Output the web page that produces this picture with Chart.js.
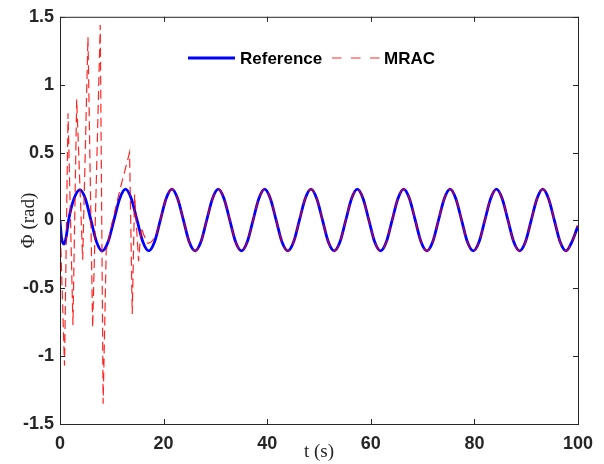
<!DOCTYPE html>
<html>
<head>
<meta charset="utf-8">
<script src="https://cdn.jsdelivr.net/npm/chart.js@4.4.0/dist/chart.umd.min.js"></script>
<style>
  html, body { margin: 0; padding: 0; background: #fff; }
  #wrap { width: 604px; height: 464px; }
</style>
</head>
<body>
<div id="wrap"><canvas id="chart" width="604" height="464"></canvas></div>
<script>
// Reference trajectory (rad)
const refT = [0, 0.3, 0.8, 1.2, 1.65, 2.7, 3.85, 4.9, 5.98, 7.07, 8.15, 9.27, 10.4, 11.52,
  12.65, 13.77, 14.89, 16.01, 17.13, 18.24, 19.36, 20.48,
  21.60, 22.72, 23.84, 24.96, 26.08, 27.19, 28.31, 29.43,
  30.55, 31.67, 32.79, 33.91, 35.03, 36.14, 37.26, 38.38,
  39.50, 40.62, 41.74, 42.86, 43.98, 45.09, 46.21, 47.33,
  48.45, 49.57, 50.69, 51.81, 52.93, 54.04, 55.16, 56.28,
  57.40, 58.52, 59.64, 60.76, 61.88, 62.99, 64.11, 65.23,
  66.35, 67.47, 68.59, 69.71, 70.83, 71.94, 73.06, 74.18,
  75.30, 76.42, 77.54, 78.66, 79.78, 80.89, 82.01, 83.13,
  84.25, 85.37, 86.49, 87.61, 88.73, 89.84, 90.96, 92.08,
  93.20, 94.32, 95.44, 96.56, 97.68, 98.80, 100];
const refY = [0, -0.13, -0.175, -0.12, 0, 0.16, 0.225, 0.16, 0, -0.16, -0.225, -0.16, 0, 0.16,
  0.23, 0.16, 0, -0.16, -0.225, -0.16, 0, 0.16,
  0.23, 0.16, 0, -0.16, -0.225, -0.16, 0, 0.16,
  0.23, 0.16, 0, -0.16, -0.225, -0.16, 0, 0.16,
  0.23, 0.16, 0, -0.16, -0.225, -0.16, 0, 0.16,
  0.23, 0.16, 0, -0.16, -0.225, -0.16, 0, 0.16,
  0.23, 0.16, 0, -0.16, -0.225, -0.16, 0, 0.16,
  0.23, 0.16, 0, -0.16, -0.225, -0.16, 0, 0.16,
  0.23, 0.16, 0, -0.16, -0.225, -0.16, 0, 0.16,
  0.23, 0.16, 0, -0.16, -0.225, -0.16, 0, 0.16,
  0.23, 0.16, 0, -0.16, -0.225, -0.16, -0.04];

// MRAC transient (first ~19 s), straight segments
const mracT1 = [0, 0.87, 1.55, 2.5, 3.22, 4.38, 5.4, 6.3, 7.77, 8.33, 8.92, 9.4, 10.0, 10.5,
  11.1, 11.8, 13.43, 13.95, 14.4, 15.17, 15.69, 16.2, 16.97, 17.6, 18.24, 18.8, 19.36];
const mracY1 = [0, -1.07, 0.79, -0.77, 0.89, -0.29, 1.35, -0.79, 1.44, -1.35, -0.22, -0.14, -0.03, 0.05,
  0.15, 0.26, 0.50, -0.69, 0.19, -0.30, -0.05, -0.11, -0.17, -0.16, -0.13, -0.08, 0];

// after ~19 s MRAC sits on top of the reference
const trackStart = refT.indexOf(19.36);
const mracT2 = refT.slice(trackStart);
const mracY2 = refY.slice(trackStart);

const xTicks = [0, 20, 40, 60, 80, 100];
const yTicks = [-1.5, -1, -0.5, 0, 0.5, 1, 1.5];

const toPts = (xs, ys) => xs.map((x, i) => ({ x: x, y: ys[i] }));

const tickFont = { family: 'Liberation Sans, Arial, sans-serif', size: 18, weight: 'bold' };
const axisColor = '#262626';
const mracColor = 'rgba(255, 0, 0, 0.85)';
const refColor = '#0000ff';

// box + inward ticks on all four sides, plus the in-axes legend
const matlabAxes = {
  id: 'matlabAxes',
  afterDraw(chart) {
    const { ctx, chartArea: a, scales } = chart;
    ctx.save();
    ctx.strokeStyle = axisColor;
    ctx.lineWidth = 1;
    ctx.setLineDash([]);
    ctx.strokeRect(a.left + 0.5, a.top + 0.5, a.right - a.left, a.bottom - a.top);
    ctx.beginPath();
    xTicks.forEach(v => {
      const px = Math.round(scales.x.getPixelForValue(v)) + 0.5;
      ctx.moveTo(px, a.bottom); ctx.lineTo(px, a.bottom - 5);
      ctx.moveTo(px, a.top); ctx.lineTo(px, a.top + 5);
    });
    yTicks.forEach(v => {
      const py = Math.round(scales.y.getPixelForValue(v)) + 0.5;
      ctx.moveTo(a.left, py); ctx.lineTo(a.left + 5, py);
      ctx.moveTo(a.right, py); ctx.lineTo(a.right - 5, py);
    });
    ctx.stroke();

    // legend
    const ly = 58;
    ctx.font = 'bold 17px Liberation Sans, Arial, sans-serif';
    ctx.textBaseline = 'middle';
    ctx.fillStyle = '#000';
    ctx.strokeStyle = refColor;
    ctx.lineWidth = 2.8;
    ctx.beginPath(); ctx.moveTo(188, ly); ctx.lineTo(235, ly); ctx.stroke();
    ctx.fillText('Reference', 240, ly + 1);
    ctx.strokeStyle = mracColor;
    ctx.lineWidth = 1.2;
    ctx.setLineDash([9.5, 9.5]);
    ctx.beginPath(); ctx.moveTo(332, ly); ctx.lineTo(380, ly); ctx.stroke();
    ctx.setLineDash([]);
    ctx.fillText('MRAC', 384, ly + 1);
    ctx.restore();
  }
};

new Chart(document.getElementById('chart'), {
  type: 'line',
  data: {
    datasets: [
      {
        label: 'MRAC',
        data: toPts(mracT1, mracY1),
        borderColor: mracColor,
        borderWidth: 1.2,
        borderDash: [9, 5],
        pointRadius: 0,
        tension: 0,
        fill: false
      },
      {
        label: 'MRAC (tracking)',
        data: toPts(mracT2, mracY2),
        borderColor: mracColor,
        borderWidth: 1.2,
        borderDash: [9, 5],
        pointRadius: 0,
        cubicInterpolationMode: 'monotone',
        fill: false
      },
      {
        label: 'Reference',
        data: toPts(refT, refY),
        borderColor: refColor,
        borderWidth: 2.8,
        pointRadius: 0,
        cubicInterpolationMode: 'monotone',
        fill: false
      }
    ]
  },
  options: {
    responsive: false,
    animation: false,
    layout: { padding: { left: 0, top: 14, right: 26, bottom: 0 } },
    plugins: {
      legend: { display: false },
      tooltip: { enabled: false }
    },
    scales: {
      x: {
        type: 'linear',
        min: 0,
        max: 100,
        afterFit: s => { s.height = 40; },
        afterBuildTicks: s => { s.ticks = xTicks.map(v => ({ value: v })); },
        grid: { display: false, drawTicks: false },
        border: { display: false },
        ticks: { font: tickFont, color: axisColor, padding: 9, maxRotation: 0 },
        title: {
          display: true,
          text: 't (s)',
          font: { family: 'Liberation Serif, Times New Roman, serif', size: 19 },
          color: axisColor,
          padding: { top: 0, bottom: 1 }
        }
      },
      y: {
        min: -1.5,
        max: 1.5,
        afterFit: s => { s.width = 60; },
        afterBuildTicks: s => { s.ticks = yTicks.map(v => ({ value: v })); },
        grid: { display: false, drawTicks: false },
        border: { display: false },
        ticks: {
          font: tickFont,
          color: axisColor,
          padding: 6,
          callback: v => String(v)
        },
        title: {
          display: true,
          text: 'Φ (rad)',
          font: { family: 'Liberation Serif, Times New Roman, serif', size: 19 },
          color: axisColor,
          padding: { top: 18, bottom: 0 }
        }
      }
    }
  },
  plugins: [matlabAxes]
});
</script>
</body>
</html>
